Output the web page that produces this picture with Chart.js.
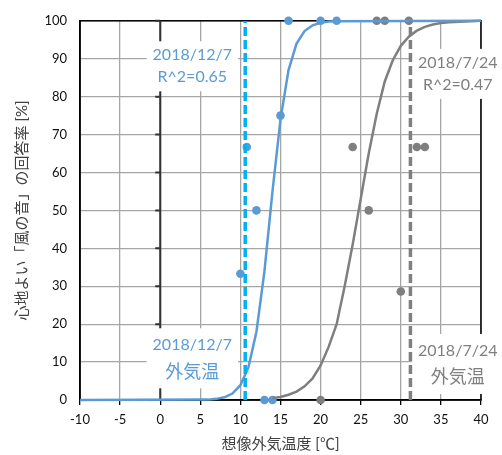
<!DOCTYPE html>
<html>
<head>
<meta charset="utf-8">
<script src="https://cdn.jsdelivr.net/npm/chart.js@4.4.0/dist/chart.umd.min.js"></script>
<style>
  html, body { margin: 0; padding: 0; background: #fff; }
</style>
</head>
<body>
<canvas id="chart" width="502" height="455"></canvas>
<script>
// answers on 2018/12/7 (blue) and 2018/7/24 (gray)
const blueX = [10, 10.8, 12, 13, 14, 15, 16, 20, 22];
const blueY = [33.3, 66.7, 50, 0, 0, 75, 100, 100, 100];
const grayX = [20, 24, 26, 27, 28, 30, 31, 32, 33];
const grayY = [0, 66.7, 50, 100, 100, 28.6, 100, 66.7, 66.7];

// fitted curves
const blueFitX = [-10, 5, 6, 7, 8, 9, 10, 11, 12, 13, 14, 15, 16, 17, 18, 19, 20, 21, 22, 40];
const blueFitY = [0, 0.1, 0.1, 0.3, 0.7, 1.7, 3.9, 8.6, 18, 34, 55, 74, 87, 94, 97.3, 98.8, 99.5, 99.8, 99.9, 100];
const grayFitX = [14, 15, 16, 17, 18, 19, 20, 21, 22, 23, 24, 25, 26, 27, 28, 29, 30, 31, 32, 33, 34, 35, 36, 40];
const grayFitY = [0.5, 0.8, 1.4, 2.2, 3.6, 5.7, 9.1, 14, 20, 30, 41, 53, 65, 75.5, 84, 89.6, 93.4, 95.8, 97.4, 98.4, 99, 99.4, 99.6, 100];

// outdoor temperature of each day
const blueTemp = 10.6;
const grayTemp = 31.2;

const BLUE = "#5B9BD5";
const CYAN = "#00B0F0";
const GRAY = "#7F7F7F";
const FONT = 'Lato, "Noto Sans CJK JP", sans-serif';

const toPoints = (xs, ys) => xs.map((x, i) => ({ x, y: ys[i] }));

const notes = [
  { x: 4, y: 88, lines: ["2018/12/7", "R^2=0.65"], color: BLUE, gap: 22 },
  { x: 37.1, y: 86, lines: ["2018/7/24", "R^2=0.47"], color: GRAY, gap: 22 },
  { x: 4, y: 11, lines: ["2018/12/7", "外気温"], color: BLUE, gap: 27 },
  { x: 37.1, y: 9.5, lines: ["2018/7/24", "外気温"], color: GRAY, gap: 27 }
];

// plot frame, the 0 °C axis and the text boxes
const decor = {
  id: "decor",
  beforeDatasetsDraw(chart) {
    const { ctx, chartArea: a, scales: { x, y } } = chart;
    ctx.save();
    ctx.strokeStyle = "#000";
    ctx.lineWidth = 1.5;
    ctx.strokeRect(a.left, a.top, a.right - a.left, a.bottom - a.top);

    const x0 = x.getPixelForValue(0);
    ctx.strokeStyle = "#333";
    ctx.lineWidth = 2;
    ctx.beginPath();
    ctx.moveTo(x0, a.top);
    ctx.lineTo(x0, a.bottom);
    y.ticks.forEach(t => {
      const py = y.getPixelForValue(t.value);
      ctx.moveTo(x0 - 5, py);
      ctx.lineTo(x0, py);
    });
    ctx.stroke();

    notes.forEach(n => {
      const cx = x.getPixelForValue(n.x);
      const cy = y.getPixelForValue(n.y);
      const fonts = n.lines.map(l => (/[^\x00-\x7F]/.test(l) ? "18px " : "16px ") + FONT);
      let w = 0;
      n.lines.forEach((l, i) => {
        ctx.font = fonts[i];
        w = Math.max(w, ctx.measureText(l).width);
      });
      const h = n.gap * n.lines.length + 6;
      ctx.fillStyle = "#fff";
      ctx.fillRect(cx - w / 2 - 6, cy - h / 2, w + 12, h);
      ctx.fillStyle = n.color;
      ctx.textAlign = "center";
      ctx.textBaseline = "middle";
      n.lines.forEach((l, i) => {
        ctx.font = fonts[i];
        ctx.fillText(l, cx, cy + (i - (n.lines.length - 1) / 2) * n.gap);
      });
    });
    ctx.restore();
  }
};

new Chart(document.getElementById("chart"), {
  type: "scatter",
  data: {
    datasets: [
      { type: "line", data: [{ x: blueTemp, y: 0 }, { x: blueTemp, y: 100 }], borderColor: CYAN, borderWidth: 3.5, borderDash: [9, 4], pointRadius: 0 },
      { type: "line", data: [{ x: grayTemp, y: 0 }, { x: grayTemp, y: 100 }], borderColor: GRAY, borderWidth: 3.5, borderDash: [9, 4], pointRadius: 0 },
      { type: "line", data: toPoints(blueFitX, blueFitY), borderColor: BLUE, borderWidth: 2.5, pointRadius: 0, tension: 0, clip: 4 },
      { type: "line", data: toPoints(grayFitX, grayFitY), borderColor: GRAY, borderWidth: 2.5, pointRadius: 0, tension: 0, clip: 4 },
      { data: toPoints(blueX, blueY), backgroundColor: BLUE, borderWidth: 0, pointRadius: 4.3, clip: false },
      { data: toPoints(grayX, grayY), backgroundColor: GRAY, borderWidth: 0, pointRadius: 4.3, clip: false }
    ]
  },
  options: {
    responsive: false,
    animation: false,
    devicePixelRatio: 1,
    layout: { padding: { top: 17, right: 21, bottom: 0, left: 0 } },
    plugins: { legend: { display: false }, tooltip: { enabled: false } },
    scales: {
      x: {
        min: -10, max: 40,
        afterFit: s => { s.height = 55; },
        ticks: { stepSize: 5, color: "#111", padding: 7, font: { family: FONT, size: 13 } },
        grid: { color: "#A6A6A6", lineWidth: 1.3, tickLength: 5, tickColor: "#000" },
        border: { color: "#000", width: 1.5 },
        title: { display: true, text: "想像外気温度 [℃]", color: "#404040", padding: { bottom: 2 }, font: { family: FONT, size: 15 } }
      },
      y: {
        min: 0, max: 100,
        afterFit: s => { s.width = 80; },
        ticks: { stepSize: 10, color: "#111", padding: 13, font: { family: FONT, size: 13 } },
        grid: { color: "#A6A6A6", lineWidth: 1.3, drawTicks: false },
        border: { color: "#000", width: 1.5 },
        title: { display: true, text: "心地よい「風の音」の回答率 [%]", color: "#404040", padding: { top: 13 }, font: { family: FONT, size: 15 } }
      }
    }
  },
  plugins: [decor]
});
</script>
</body>
</html>
